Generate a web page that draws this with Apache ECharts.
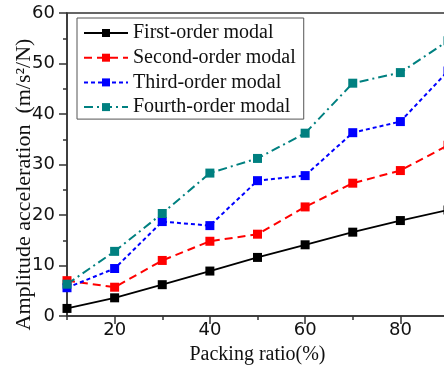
<!DOCTYPE html>
<html>
<head>
<meta charset="utf-8">
<script src="https://cdn.jsdelivr.net/npm/echarts@6/dist/echarts.min.js"></script>
<style>
  html, body { margin: 0; padding: 0; background: #fff; }
  #chart { width: 444px; height: 369px; }
</style>
</head>
<body>
<div id="chart"></div>
<script>
var packingRatio = [10, 20, 30, 40, 50, 60, 70, 80, 90];
var firstOrder = [1.5, 3.6, 6.2, 8.9, 11.6, 14.1, 16.6, 18.9, 21.0];
var secondOrder = [7.0, 5.7, 11.0, 14.8, 16.2, 21.6, 26.3, 28.8, 33.8];
var thirdOrder = [5.6, 9.4, 18.7, 17.9, 26.8, 27.8, 36.3, 38.5, 48.5];
var fourthOrder = [6.3, 12.8, 20.3, 28.3, 31.2, 36.2, 46.1, 48.2, 54.5];
var seriesNames = ["First-order modal", "Second-order modal", "Third-order modal", "Fourth-order modal"];
var xLabelValues = [20, 40, 60, 80];
var xMinorTicks = [10, 30, 50, 70];

function pairs(ys) {
  return packingRatio.map(function (x, i) { return [x, ys[i]]; });
}

var chartDom = document.getElementById("chart");
var myChart = echarts.init(chartDom);

var axisColor = "#333";
var serif = "Liberation Serif";
var sans = "DejaVu Sans";

function makeSeries(name, ys, color, dash, width) {
  return {
    name: name,
    type: "line",
    data: pairs(ys),
    symbol: "rect",
    symbolSize: 9,
    showAllSymbol: true,
    clip: false,
    itemStyle: { color: color },
    lineStyle: { color: color, width: width, type: dash },
    emphasis: { disabled: true }
  };
}

var option = {
  animation: false,
  grid: {
    left: 67,
    right: -4,
    top: 13,
    bottom: 53,
    outerBoundsMode: "none",
    containLabel: false,
    show: true,
    borderColor: axisColor,
    borderWidth: 1.5,
    backgroundColor: "transparent"
  },
  legend: {
    orient: "vertical",
    left: 77,
    top: 18,
    padding: [5, 8, 2, 6],
    itemWidth: 44,
    itemHeight: 10,
    itemGap: 4.7,
    backgroundColor: "#fff",
    borderColor: "#555",
    borderWidth: 1,
    textStyle: { fontFamily: serif, fontSize: 20, color: "#111", lineHeight: 20 },
    data: seriesNames
  },
  xAxis: [
    {
      type: "value",
      min: 10,
      max: 90,
      interval: 10,
      name: "Packing ratio(%)",
      nameLocation: "middle",
      nameGap: 29,
      nameTextStyle: { fontFamily: serif, fontSize: 20, color: "#111" },
      splitLine: { show: false },
      axisLine: { lineStyle: { color: axisColor, width: 1.5 } },
      axisTick: { customValues: xLabelValues, length: 8, lineStyle: { color: axisColor, width: 1.5 } },
      axisLabel: { customValues: xLabelValues, margin: 5, fontFamily: sans, fontSize: 18, color: "#111" }
    },
    {
      type: "value",
      min: 10,
      max: 90,
      interval: 10,
      position: "bottom",
      splitLine: { show: false },
      axisLine: { show: false },
      axisTick: { customValues: xMinorTicks, length: 4, lineStyle: { color: axisColor, width: 1.5 } },
      axisLabel: { show: false }
    }
  ],
  yAxis: {
    type: "value",
    min: 0,
    max: 60,
    interval: 10,
    name: "Amplitude acceleration  (m/s\u00b2/N)",
    nameLocation: "middle",
    nameGap: 32,
    nameMoveOverlap: false,
    nameTextStyle: { fontFamily: serif, fontSize: 22, color: "#111", padding: [0, 40, 0, 0] },
    splitLine: { show: false },
    axisLine: { show: true, lineStyle: { color: axisColor, width: 1.5 } },
    axisTick: { length: 8, lineStyle: { color: axisColor, width: 1.5 } },
    minorTick: { show: true, splitNumber: 2, length: 4, lineStyle: { color: axisColor, width: 1.5 } },
    axisLabel: { margin: 12, fontFamily: sans, fontSize: 18, color: "#111" }
  },
  series: [
    makeSeries(seriesNames[0], firstOrder, "#000000", "solid", 1.8),
    makeSeries(seriesNames[1], secondOrder, "#ff0000", [8, 5], 2),
    makeSeries(seriesNames[2], thirdOrder, "#0000ff", [4, 3], 2),
    makeSeries(seriesNames[3], fourthOrder, "#008080", [9, 4, 2, 4], 2)
  ]
};

myChart.setOption(option);
window.addEventListener("resize", myChart.resize);
</script>
</body>
</html>
